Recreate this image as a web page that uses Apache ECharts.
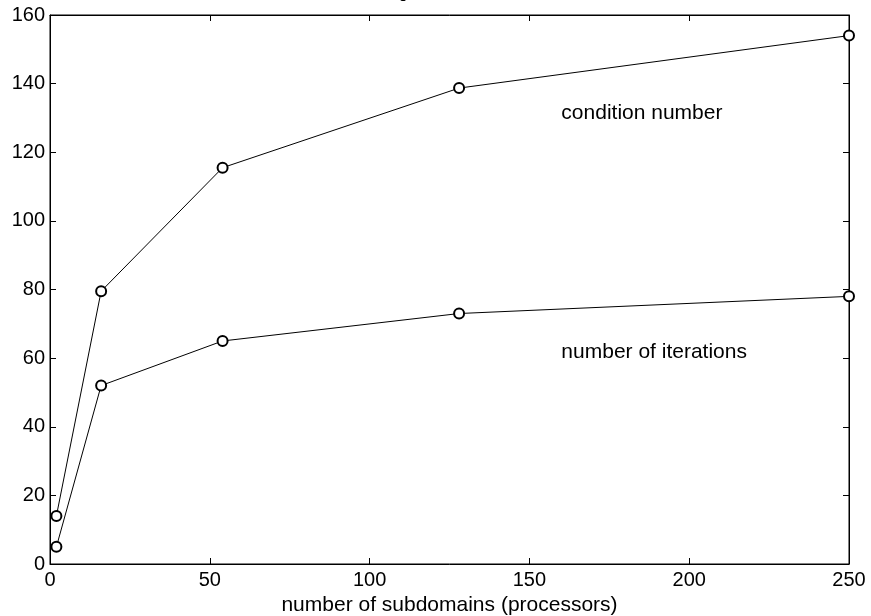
<!DOCTYPE html>
<html><head><meta charset="utf-8">
<script src="https://cdn.jsdelivr.net/npm/echarts@6/dist/echarts.min.js"></script>
<style>html,body{margin:0;padding:0;background:#fff}#c{width:871px;height:616px}</style>
</head><body><div id="c"></div>
<script>
const subdomains = [2, 16, 54, 128, 250];
const conditionNumber = [14, 79.5, 115.5, 138.7, 154];
const iterations = [5, 52, 65, 73, 78];
const xTicks = [0, 50, 100, 150, 200, 250];
const yTicks = [0, 20, 40, 60, 80, 100, 120, 140, 160];
const titleText = 'Scaled scaling, local subdomain size fixed';
const xName = 'number of subdomains (processors)';
const labelCond = {text: 'condition number', x: 160, y: 131.5};
const labelIter = {text: 'number of iterations', x: 160, y: 61.8};

const FONT = 'Liberation Sans';
const chart = echarts.init(document.getElementById('c'), null, {renderer: 'canvas'});
const pair = (xs, ys) => xs.map((x, i) => [x, ys[i]]);
const tick = () => ({show: true, inside: true, length: 6, lineStyle: {color: '#000', width: 1}});
const axLine = () => ({show: true, onZero: false, lineStyle: {color: '#000', width: 1}});
const lineOf = (name, ys, lab) => ({
  name, type: 'line', data: pair(subdomains, ys),
  symbol: 'emptyCircle', symbolSize: 10,
  lineStyle: {color: '#000', width: 1},
  itemStyle: {color: '#000', borderColor: '#000', borderWidth: 1},
  showSymbol: true, animation: false, z: 3,
  markPoint: {
    symbol: 'circle', symbolSize: 0, animation: false,
    data: [{coord: [lab.x, lab.y]}],
    label: {show: true, formatter: lab.text, position: 'right', distance: 0,
      color: '#000', fontFamily: FONT, fontSize: 21}
  }
});
chart.setOption({
  backgroundColor: '#fff',
  animation: false,
  title: {text: titleText, left: 449, textAlign: 'center', top: -19,
    textStyle: {fontFamily: FONT, fontSize: 16, fontWeight: 'normal', color: '#000'}},
  grid: {left: 50, right: 22, top: 15, bottom: 52, show: true, borderColor: '#000', borderWidth: 1,
    containLabel: false, outerBoundsMode: 'none'},
  xAxis: [
    {type: 'value', min: xTicks[0], max: xTicks[xTicks.length - 1], interval: xTicks[1] - xTicks[0],
      position: 'bottom', name: xName, nameLocation: 'middle', nameGap: 22,
      nameTextStyle: {fontFamily: FONT, fontSize: 21, color: '#000'},
      axisLine: axLine(), axisTick: tick(), splitLine: {show: false},
      axisLabel: {fontFamily: FONT, fontSize: 20, color: '#000', margin: 6}},
    {type: 'value', min: xTicks[0], max: xTicks[xTicks.length - 1], interval: xTicks[1] - xTicks[0],
      position: 'top', axisLine: axLine(), axisTick: tick(), axisLabel: {show: false}, splitLine: {show: false}}
  ],
  yAxis: [
    {type: 'value', min: yTicks[0], max: yTicks[yTicks.length - 1], interval: yTicks[1] - yTicks[0],
      position: 'left', axisLine: axLine(), axisTick: tick(), splitLine: {show: false},
      axisLabel: {fontFamily: FONT, fontSize: 20, color: '#000', margin: 5}},
    {type: 'value', min: yTicks[0], max: yTicks[yTicks.length - 1], interval: yTicks[1] - yTicks[0],
      position: 'right', axisLine: axLine(), axisTick: tick(), axisLabel: {show: false}, splitLine: {show: false}}
  ],
  series: [
    lineOf('condition number', conditionNumber, labelCond),
    lineOf('number of iterations', iterations, labelIter)
  ]
});
</script></body></html>
